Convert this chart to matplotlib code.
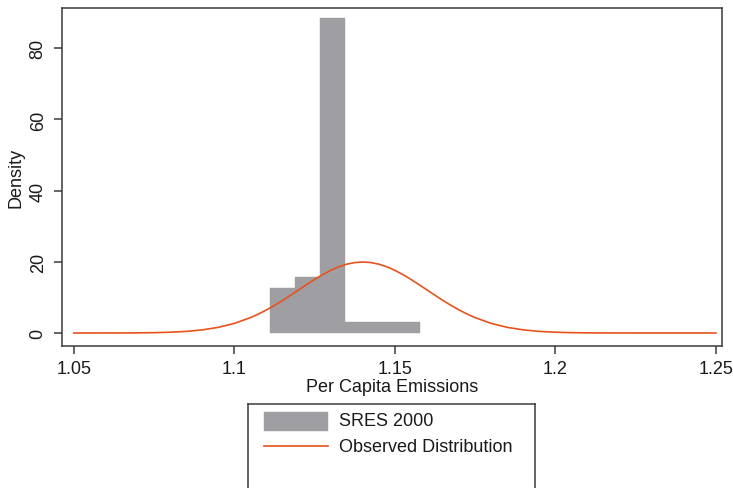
import matplotlib
matplotlib.use("Agg")
import matplotlib.pyplot as plt
from matplotlib.patches import Rectangle
from matplotlib.lines import Line2D

plt.rcParams['font.family'] = ['Liberation Sans', 'DejaVu Sans']

# Histogram (SRES 2000): bin edges and densities
bin_edges = [1.1111, 1.1189, 1.1267, 1.1345, 1.1423, 1.1501, 1.1579]
bin_density = [12.6, 15.8, 88.4, 3.2, 3.2, 3.2]

# Observed distribution curve
curve_x = [1.050, 1.055, 1.060, 1.065, 1.070, 1.075, 1.080, 1.085, 1.090, 1.095,
           1.100, 1.105, 1.1075, 1.110, 1.1125, 1.115, 1.1175, 1.120, 1.1225,
           1.125, 1.1275, 1.130, 1.1325, 1.135, 1.1375, 1.140, 1.1425, 1.145,
           1.1475, 1.150, 1.1525, 1.155, 1.1575, 1.160, 1.1625, 1.165, 1.1675,
           1.170, 1.1725, 1.175, 1.180, 1.185, 1.190, 1.195,
           1.200, 1.205, 1.210, 1.215, 1.220, 1.225, 1.230, 1.235, 1.240, 1.245,
           1.250]
curve_y = [0.0, 0.002, 0.007, 0.018, 0.044, 0.10, 0.22, 0.45, 0.88, 1.59,
           2.70, 4.32, 5.33, 6.48, 7.75, 9.13, 10.60, 12.10, 13.60,
           15.06, 16.41, 17.61, 18.60, 19.34, 19.79, 19.95, 19.79, 19.34,
           18.60, 17.61, 16.41, 15.06, 13.60, 12.10, 10.60, 9.13, 7.75,
           6.48, 5.33, 4.32, 2.70, 1.59, 0.88, 0.45,
           0.22, 0.10, 0.044, 0.018, 0.007, 0.002, 0.0, 0.0, 0.0, 0.0,
           0.0]

x_ticks = [1.05, 1.1, 1.15, 1.2, 1.25]
x_tick_labels = ["1.05", "1.1", "1.15", "1.2", "1.25"]
y_ticks = [0, 20, 40, 60, 80]

bar_color = '#9e9ea3'
line_color = '#e8521c'
spine_color = '#3a3a3a'
text_color = '#1a1a1a'

W, H = 733, 489
fig = plt.figure(figsize=(W / 100, H / 100), dpi=100)
ax = fig.add_axes([62 / W, 1 - 347 / H, (722 - 62) / W, (347 - 9) / H])

widths = [bin_edges[i + 1] - bin_edges[i] for i in range(len(bin_density))]
ax.bar(bin_edges[:-1], bin_density, width=widths, align='edge',
       color=bar_color, edgecolor=bar_color, linewidth=0.3, zorder=2)
ax.plot(curve_x, curve_y, color=line_color, linewidth=1.2, zorder=3)

ax.set_xlim(1.0463, 1.2519)
ax.set_ylim(-3.65, 91.3)
ax.set_xticks(x_ticks)
ax.set_xticklabels(x_tick_labels)
ax.set_yticks(y_ticks)
for lab in ax.get_yticklabels():
    lab.set_rotation(90)
    lab.set_va('center')
ax.tick_params(axis='both', direction='out', length=6, width=1.1,
               color=spine_color, labelsize=13, labelcolor=text_color)
ax.tick_params(axis='x', pad=4)
ax.tick_params(axis='y', pad=5)
for s in ax.spines.values():
    s.set_color(spine_color)
    s.set_linewidth(1.1)

ax.set_xlabel("Per Capita Emissions", fontsize=13, color=text_color, labelpad=1)
ax.set_ylabel("Density", fontsize=13, color=text_color, labelpad=4)

# Legend box (extends below the canvas edge)
lx0, lx1, ly0, ly1 = 248, 535, 405, 500
lax = fig.add_axes([lx0 / W, 1 - ly1 / H, (lx1 - lx0) / W, (ly1 - ly0) / H])
lax.set_xlim(lx0, lx1)
lax.set_ylim(ly1, ly0)
lax.set_xticks([])
lax.set_yticks([])
for s in lax.spines.values():
    s.set_color(spine_color)
    s.set_linewidth(1.1)
lax.add_patch(Rectangle((264, 413), 64, 19, facecolor=bar_color,
                        edgecolor=bar_color, linewidth=0.3))
lax.add_line(Line2D([264, 328], [447, 447], color=line_color, linewidth=1.2))
lax.text(339, 422, "SRES 2000", fontsize=13, va='center', ha='left', color=text_color)
lax.text(339, 447, "Observed Distribution", fontsize=13, va='center', ha='left',
         color=text_color)

fig.savefig("out.png", dpi=100)
